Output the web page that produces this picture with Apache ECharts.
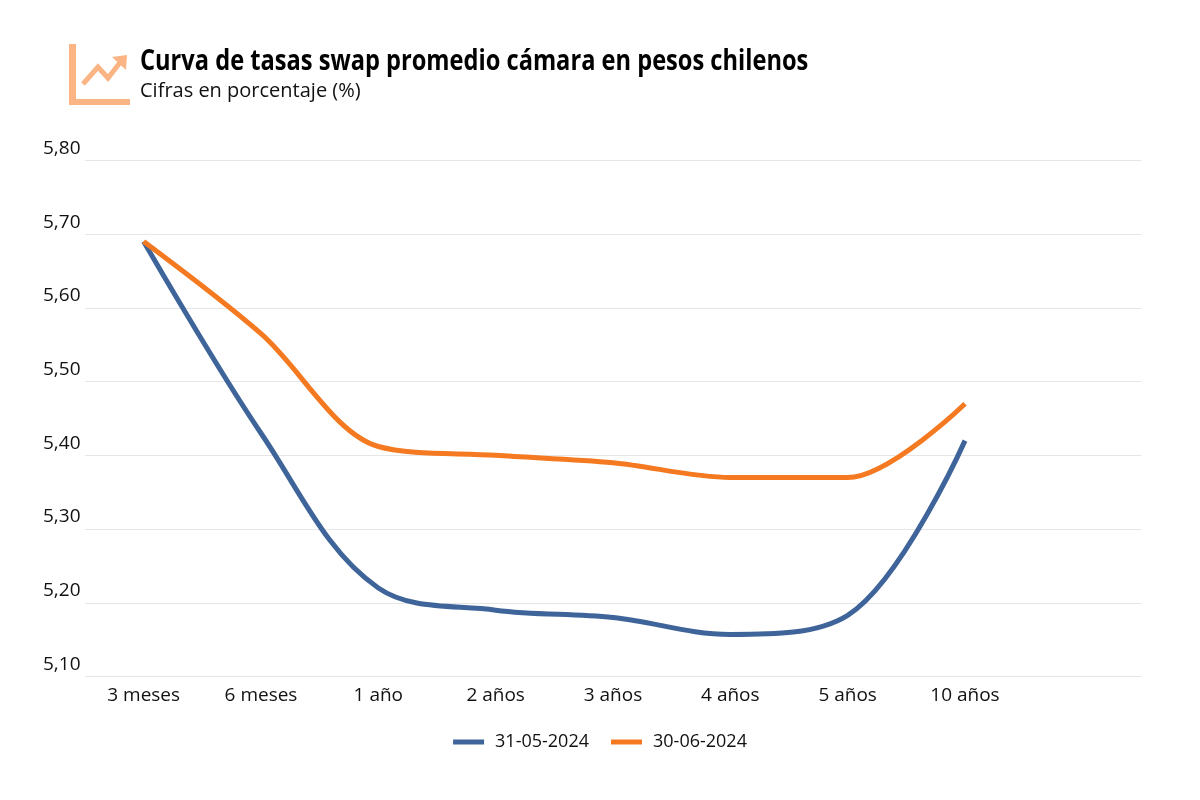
<!DOCTYPE html>
<html><head><meta charset="utf-8">
<style>html,body{margin:0;background:#fff}#c{width:1200px;height:800px}</style>
<script src="https://cdn.jsdelivr.net/npm/echarts@6/dist/echarts.min.js"></script>
</head><body><div id="c"></div>
<script>
const categories = ['3 meses','6 meses','1 año','2 años','3 años','4 años','5 años','10 años',''];
const mayo = [5.69,5.43,5.22,5.19,5.18,5.157,5.183,5.42,null];
const junio = [5.69,5.565,5.412,5.40,5.39,5.37,5.37,5.47,null];
const seriesNames = ['31-05-2024','30-06-2024'];
const titleText = 'Curva de tasas swap promedio cámara en pesos chilenos';
const subtitleText = 'Cifras en porcentaje (%)';
const font = '"Open Sans"';
const iconColor = '#FBB584';
const chart = echarts.init(document.getElementById('c'));
chart.setOption({
  animation:false,
  backgroundColor:'#fff',
  textStyle:{fontFamily:font},
  grid:{left:85,right:59,top:160.5,bottom:123.5,containLabel:false},
  xAxis:{type:'category',data:categories,boundaryGap:true,
    axisLine:{show:false},axisTick:{show:false},
    axisLabel:{color:'#111',fontSize:19,margin:10,fontFamily:font,interval:0}},
  yAxis:{type:'value',min:5.1,max:5.8,interval:0.1,
    axisLine:{show:false},axisTick:{show:false},
    splitLine:{lineStyle:{color:'#E6E6E6',width:1}},
    axisLabel:{color:'#111',fontSize:19,fontFamily:font,align:'left',margin:42,verticalAlign:'bottom',lineHeight:24,
      formatter:v=>v.toFixed(2).replace('.',',')}},
  legend:{data:seriesNames,bottom:44,left:'center',itemWidth:31,itemHeight:5,itemGap:22,icon:'rect',
    textStyle:{color:'#111',fontSize:18,fontFamily:font,padding:[0,0,0,6]}},
  series:[
    {name:seriesNames[0],type:'line',data:mayo,smooth:0.36,symbol:'none',lineStyle:{color:'#3E6499',width:5,cap:'butt'},itemStyle:{color:'#3E6499'}},
    {name:seriesNames[1],type:'line',data:junio,smooth:0.32,symbol:'none',lineStyle:{color:'#F47920',width:5,cap:'butt'},itemStyle:{color:'#F47920'}}
  ],
  graphic:[
    {type:'text',x:140,y:62,scaleX:0.815,style:{text:titleText,font:'bold 29px "Open Sans"',fill:'#000',verticalAlign:'middle'}},
    {type:'text',x:140,y:91,style:{text:subtitleText,font:'20px "Open Sans"',fill:'#111',verticalAlign:'middle'}},
    {type:'rect',shape:{x:69,y:44,width:7,height:61},style:{fill:iconColor}},
    {type:'rect',shape:{x:69,y:99,width:61,height:6},style:{fill:iconColor}},
    {type:'polyline',shape:{points:[[83,84],[98,67],[108,78],[122,60]]},style:{stroke:iconColor,lineWidth:5,fill:null}},
    {type:'polygon',shape:{points:[[112,57],[127,55],[126,70]]},style:{fill:iconColor}}
  ]
});
</script></body></html>
